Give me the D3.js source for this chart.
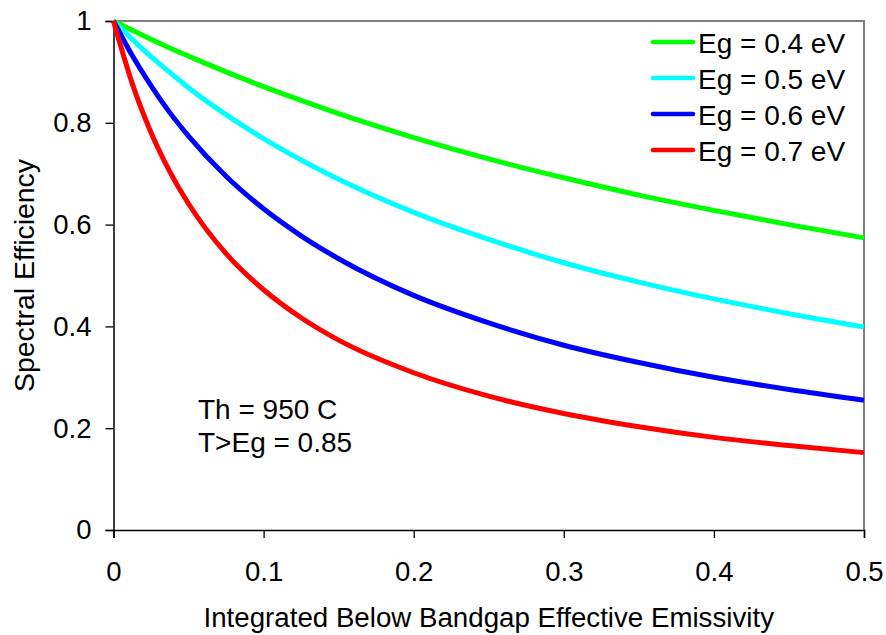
<!DOCTYPE html>
<html>
<head>
<meta charset="utf-8">
<script src="https://cdn.jsdelivr.net/npm/d3@7"></script>
<style>
  body { margin: 0; background: #fff; }
  text { font-family: Arial, "Liberation Sans", sans-serif; fill: #000; }
</style>
</head>
<body>
<script>
// values
var emissivity = [0, 0.0125, 0.025, 0.0375, 0.05, 0.075, 0.1, 0.125, 0.15, 0.2, 0.25, 0.3, 0.35, 0.4, 0.45, 0.5];
var eg04 = [1, 0.982, 0.964, 0.947, 0.931, 0.900, 0.871, 0.844, 0.818, 0.771, 0.729, 0.692, 0.658, 0.628, 0.600, 0.574];
var eg05 = [1, 0.964, 0.930, 0.899, 0.869, 0.816, 0.769, 0.727, 0.689, 0.624, 0.571, 0.525, 0.487, 0.454, 0.425, 0.399];
var eg06 = [1, 0.932, 0.873, 0.820, 0.774, 0.695, 0.631, 0.578, 0.533, 0.461, 0.407, 0.363, 0.329, 0.300, 0.276, 0.255];
var eg07 = [1, 0.877, 0.781, 0.704, 0.641, 0.543, 0.472, 0.417, 0.373, 0.309, 0.263, 0.229, 0.203, 0.182, 0.166, 0.152];

var seriesNames = ["Eg = 0.4 eV", "Eg = 0.5 eV", "Eg = 0.6 eV", "Eg = 0.7 eV"];
var seriesColors = ["#00ff00", "#00ffff", "#0000ff", "#ff0000"];
var xTicks = [0, 0.1, 0.2, 0.3, 0.4, 0.5];
var yTicks = [0, 0.2, 0.4, 0.6, 0.8, 1];
var notes = ["Th = 950 C", "T>Eg = 0.85"];

var margin = {top: 21, right: 22, bottom: 105, left: 113.5},
    width = 886 - margin.left - margin.right,
    height = 635 - margin.top - margin.bottom;

var svg = d3.select("body").append("svg")
    .attr("width", 886)
    .attr("height", 635)
  .append("g")
    .attr("transform", "translate(" + margin.left + "," + margin.top + ")");

var x = d3.scaleLinear().domain([0, 0.5]).range([0, width]);
var y = d3.scaleLinear().domain([0, 1]).range([height, 0]);

// gray frame on top and right
svg.append("path")
    .attr("d", "M0,0H" + width + "V" + height)
    .attr("fill", "none")
    .attr("stroke", "#808080")
    .attr("stroke-width", 2);

// x axis
var gx = svg.append("g")
    .attr("transform", "translate(0," + height + ")")
    .call(d3.axisBottom(x).tickValues(xTicks).tickFormat(function(d) { return String(d); })
      .tickSize(8).tickPadding(23));

// y axis
var gy = svg.append("g")
    .call(d3.axisLeft(y).tickValues(yTicks).tickFormat(function(d) { return String(d); })
      .tickSize(8).tickPadding(14));

[gx, gy].forEach(function(g) {
  g.select(".domain").attr("stroke", "#000").attr("stroke-width", 1.5);
  g.selectAll(".tick line").attr("stroke", "#000").attr("stroke-width", 1.3);
  g.selectAll(".tick text")
    .style("font-family", "Arial, 'Liberation Sans', sans-serif")
    .style("font-size", "27.5px")
    .attr("fill", "#000");
});

// axis titles
svg.append("text")
    .attr("x", width / 2)
    .attr("y", 606)
    .style("text-anchor", "middle")
    .style("font-size", "27.7px")
    .text("Integrated Below Bandgap Effective Emissivity");

svg.append("text")
    .attr("transform", "rotate(-90)")
    .attr("x", -height / 2)
    .attr("y", 34 - margin.left)
    .style("text-anchor", "middle")
    .style("font-size", "28.4px")
    .text("Spectral Efficiency");

// curves
var allSeries = [eg04, eg05, eg06, eg07];
var line = d3.line()
    .x(function(d, i) { return x(emissivity[i]); })
    .y(function(d) { return y(d); })
    .curve(d3.curveMonotoneX);

svg.selectAll(".curve")
    .data(allSeries)
  .enter().append("path")
    .attr("class", "curve")
    .attr("d", line)
    .attr("fill", "none")
    .attr("stroke", function(d, i) { return seriesColors[i]; })
    .attr("stroke-width", 5)
    .attr("stroke-linejoin", "round");

// legend
var legend = svg.selectAll(".legend")
    .data(seriesNames)
  .enter().append("g")
    .attr("class", "legend")
    .attr("transform", function(d, i) { return "translate(" + (653 - margin.left) + "," + (42 - margin.top + i * 36) + ")"; });

legend.append("line")
    .attr("x1", 0).attr("x2", 40)
    .attr("stroke", function(d, i) { return seriesColors[i]; })
    .attr("stroke-width", 4.5)
    .attr("stroke-linecap", "round");

legend.append("text")
    .attr("x", 45)
    .attr("y", 11)
    .style("font-size", "28px")
    .text(function(d) { return d; });

// annotation
svg.selectAll(".note")
    .data(notes)
  .enter().append("text")
    .attr("class", "note")
    .attr("x", 198 - margin.left)
    .attr("y", function(d, i) { return 419 - margin.top + i * 33; })
    .style("font-size", "28px")
    .text(function(d) { return d; });
</script>
</body>
</html>
